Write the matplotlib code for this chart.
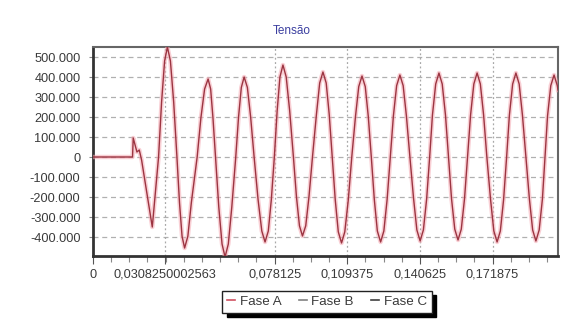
import matplotlib
matplotlib.use("Agg")
import matplotlib.pyplot as plt
from matplotlib.lines import Line2D
from matplotlib.ticker import FixedLocator, MultipleLocator

plt.rcParams['font.family'] = ['Liberation Sans', 'DejaVu Sans']

title = "Tensão"
series_names = ["Fase A", "Fase B", "Fase C"]

# Fase A voltage samples (time in s, voltage in V)
t_fase_a = [0.0, 0.0170, 0.0173, 0.0189, 0.0199, 0.0209, 0.0255, 0.0282,
            0.0295, 0.0308, 0.0320, 0.0333, 0.0347, 0.0361,
            0.0372, 0.0383, 0.0394, 0.0408, 0.0423, 0.0448,
            0.0464, 0.0480, 0.0495, 0.0506, 0.0516, 0.0527,
            0.0541, 0.0555, 0.0568, 0.0582, 0.0597, 0.0614,
            0.0626, 0.0638, 0.0650, 0.0664, 0.0678, 0.0693,
            0.0710, 0.0726, 0.0740, 0.0754, 0.0767, 0.0780,
            0.0792, 0.0804, 0.0817, 0.0831, 0.0846, 0.0862,
            0.0875, 0.0888, 0.0901, 0.0915, 0.0929, 0.0944,
            0.0961, 0.0975, 0.0989, 0.1003, 0.1016, 0.1029,
            0.1042, 0.1055, 0.1069, 0.1083, 0.1098, 0.1113,
            0.1129, 0.1143, 0.1157, 0.1171, 0.1184, 0.1197,
            0.1210, 0.1223, 0.1237, 0.1251, 0.1265, 0.1279,
            0.1292, 0.1306, 0.1320, 0.1334, 0.1348, 0.1363,
            0.1379, 0.1393, 0.1407, 0.1421, 0.1435, 0.1448,
            0.1460, 0.1474, 0.1488, 0.1502, 0.1516, 0.1529,
            0.1542, 0.1556, 0.1570, 0.1584, 0.1598, 0.1611,
            0.1624, 0.1638, 0.1652, 0.1666, 0.1680, 0.1694,
            0.1710, 0.1724, 0.1738, 0.1752, 0.1766, 0.1779,
            0.1791, 0.1805, 0.1819, 0.1833, 0.1847, 0.1862,
            0.1877, 0.1891, 0.1905, 0.1919, 0.1933, 0.1944,
            0.1955, 0.1969, 0.1983, 0.1997, 0.2000]
v_fase_a = [0, 0, 95000, 25000, 35000, -15000, -350000, 0,
            275000, 480000, 550000, 480000, 275000, 0,
            -228000, -396000, -455000, -396000, -228000, 0,
            195000, 340000, 390000, 340000, 195000, 0,
            -250000, -435000, -500000, -435000, -250000, 0,
            200000, 348000, 400000, 348000, 200000, 0,
            -213000, -370000, -425000, -370000, -213000, 0,
            230000, 400000, 460000, 400000, 230000, 0,
            -198000, -344000, -395000, -344000, -198000, 0,
            213000, 370000, 425000, 370000, 213000, 0,
            -215000, -374000, -430000, -374000, -215000, 0,
            203000, 352000, 405000, 352000, 203000, 0,
            -213000, -370000, -425000, -370000, -213000, 0,
            205000, 357000, 410000, 357000, 205000, 0,
            -210000, -365000, -420000, -365000, -210000, 0,
            210000, 365000, 420000, 365000, 210000, 0,
            -208000, -361000, -415000, -361000, -208000, 0,
            210000, 365000, 420000, 365000, 210000, 0,
            -213000, -370000, -425000, -370000, -213000, 0,
            210000, 365000, 420000, 365000, 210000, 0,
            -210000, -365000, -420000, -365000, -210000, 0,
            205000, 357000, 410000, 357000, 335000]

x_ticks = [0, 0.0308250002563, 0.078125, 0.109375, 0.140625, 0.171875]
x_tick_labels = ["0", "0,0308250002563", "0,078125", "0,109375", "0,140625", "0,171875"]
y_ticks = [500000, 400000, 300000, 200000, 100000, 0,
           -100000, -200000, -300000, -400000]
y_tick_labels = ["500.000", "400.000", "300.000", "200.000", "100.000", "0",
                 "-100.000", "-200.000", "-300.000", "-400.000"]

fig = plt.figure(figsize=(5.62, 3.25), dpi=100)
fig.patch.set_facecolor('white')
ax = fig.add_axes([93/562, 1-256/325, (558-93)/562, (256-47)/325])
ax.set_facecolor('white')

ax.plot(t_fase_a, v_fase_a, color='#f5a8b2', lw=3.2, alpha=0.55, zorder=3,
        solid_joinstyle='round')
ax.plot(t_fase_a, v_fase_a, color='#9c3441', lw=1.0, zorder=4,
        solid_joinstyle='round')

ax.set_xlim(0, 0.2)
ax.set_ylim(-495000, 550000)

ax.xaxis.set_major_locator(FixedLocator(x_ticks))
ax.set_xticklabels(x_tick_labels)
ax.xaxis.set_minor_locator(MultipleLocator(0.0078125))
ax.yaxis.set_major_locator(FixedLocator(y_ticks))
ax.set_yticklabels(y_tick_labels)

ax.tick_params(axis='x', which='major', length=6, width=0.8, color='#555555',
               labelsize=9.2, labelcolor='#3a3a3a', pad=3)
ax.tick_params(axis='x', which='minor', length=4, width=0.8, color='#888888')
ax.tick_params(axis='y', which='major', length=3, width=0.8, color='#888888',
               labelsize=9.2, labelcolor='#3a3a3a', pad=6)

for y in y_ticks:
    ax.axhline(y, color='#b0b0b0', lw=0.9, ls=(0, (4, 3)), zorder=1)
for x in x_ticks[1:]:
    ax.axvline(x, color='#a8a8a8', lw=0.9, ls=(0, (1.5, 2)), zorder=1)

for side in ['left', 'bottom']:
    ax.spines[side].set_linewidth(2.0)
    ax.spines[side].set_color('#333333')
for side in ['top', 'right']:
    ax.spines[side].set_linewidth(1.5)
    ax.spines[side].set_color('#666666')

fig.text(292/562, 1-31/325, title, ha='center', va='center',
         fontsize=8.5, color='#3b3fa0')

handles = [Line2D([], [], color='#d05060', lw=1.2),
           Line2D([], [], color='#808080', lw=1.2),
           Line2D([], [], color='#404040', lw=1.2)]
leg = fig.legend(handles, series_names, loc='center',
                 bbox_to_anchor=(327/562, 1-302/325), ncol=3,
                 fontsize=9.6, handlelength=0.6, handletextpad=0.35,
                 columnspacing=1.3, frameon=True, fancybox=False,
                 borderpad=0.35, borderaxespad=0,
                 shadow={'color': 'black', 'alpha': 1.0, 'ox': 3, 'oy': -3})
leg.get_frame().set_edgecolor('#222222')
leg.get_frame().set_linewidth(1.0)
for txt in leg.get_texts():
    txt.set_color('#3a3a3a')

fig.savefig('out.png', dpi=100)
